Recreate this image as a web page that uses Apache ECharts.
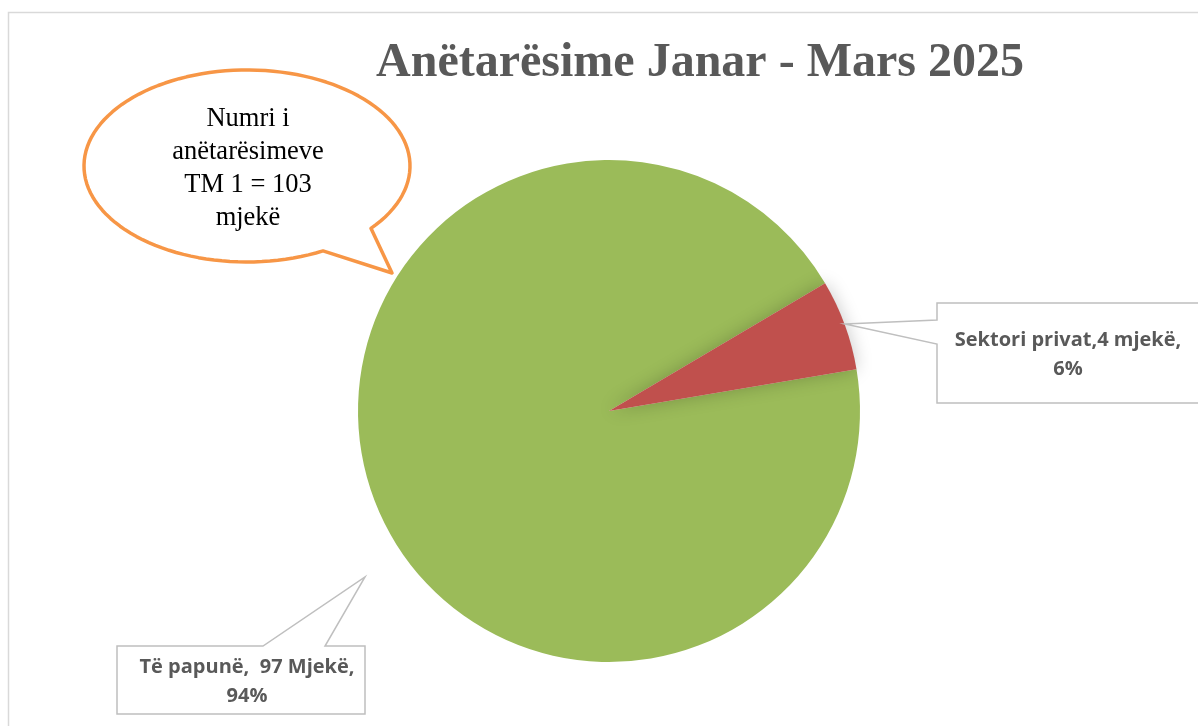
<!DOCTYPE html>
<html>
<head>
<meta charset="utf-8">
<script src="https://cdn.jsdelivr.net/npm/echarts@6/dist/echarts.min.js"></script>
<style>
html,body{margin:0;padding:0;background:#fff;}
#chart{width:1198px;height:726px;}
</style>
</head>
<body>
<div id="chart"></div>
<script>
// Data
const categories = ['Të papunë', 'Sektori privat'];
const values = [97, 6];
const labelTexts = ['Të papunë,  97 Mjekë,\n94%', 'Sektori privat,4 mjekë,\n6%'];
const colors = ['#9BBB59', '#C0504D'];
const titleText = 'Anëtarësime Janar - Mars 2025';
const bubbleText = 'Numri i\nanëtarësimeve\nTM 1 = 103\nmjekë';

const chart = echarts.init(document.getElementById('chart'), null, {renderer: 'canvas'});

// speech bubble outline
function bubblePoints(cx, cy, rx, ry, a0, a1, tip) {
  const pts = [];
  const start = a1, end = a0 + 360;
  const n = 120;
  for (let i = 0; i <= n; i++) {
    const a = (start + (end - start) * i / n) * Math.PI / 180;
    pts.push([cx + rx * Math.cos(a), cy + ry * Math.sin(a)]);
  }
  pts.push(tip);
  return pts;
}

const labelStyle = {
  fontFamily: 'Open Sans',
  fontWeight: 'bold',
  fontSize: 20,
  fill: '#595959',
  align: 'center',
  verticalAlign: 'middle',
  lineHeight: 29
};

const option = {
  animation: false,
  backgroundColor: '#fff',
  title: {
    text: titleText,
    left: 695,
    top: 35,
    textAlign: 'center',
    textStyle: {
      fontFamily: 'Liberation Serif',
      fontWeight: 'bold',
      fontSize: 48,
      color: '#595959'
    }
  },
  series: [{
    type: 'pie',
    center: [609, 411],
    radius: 251,
    startAngle: 9.6,
    clockwise: true,
    label: {show: false},
    labelLine: {show: false},
    emphasis: {disabled: true},
    data: categories.map((c, i) => ({
      name: c,
      value: values[i],
      itemStyle: i === 1 ? {color: colors[i], shadowBlur: 18, shadowColor: 'rgba(0,0,0,0.22)'} : {color: colors[i]}
    }))
  }],
  graphic: [
    {
      type: 'rect',
      shape: {x: 8.5, y: 12.5, width: 1200, height: 730},
      style: {fill: 'none', stroke: '#d9d9d9', lineWidth: 1.5},
      z: -10, silent: true
    },
    {
      type: 'polygon',
      shape: {points: bubblePoints(247, 166, 163, 96, 40.5, 62.2, [392, 273])},
      style: {fill: '#fff', stroke: '#F79646', lineWidth: 3.5, lineJoin: 'round'},
      z: 10
    },
    {
      type: 'text',
      x: 248, y: 169,
      style: {
        text: bubbleText,
        fontFamily: 'Liberation Serif',
        fontSize: 26.5,
        fill: '#000',
        align: 'center',
        verticalAlign: 'middle',
        lineHeight: 33
      },
      z: 11
    },
    {
      type: 'polygon',
      shape: {points: [[937, 303], [1215, 303], [1215, 403], [937, 403], [937, 344], [845, 324], [937, 320]]},
      style: {fill: '#fff', stroke: '#bfbfbf', lineWidth: 1.5},
      z: 10
    },
    {
      type: 'text',
      x: 1068, y: 355,
      style: Object.assign({text: labelTexts[1]}, labelStyle),
      z: 11
    },
    {
      type: 'polygon',
      shape: {points: [[117, 646], [263, 646], [365, 577], [325, 646], [365, 646], [365, 714], [117, 714]]},
      style: {fill: '#fff', stroke: '#bfbfbf', lineWidth: 1.5},
      z: 10
    },
    {
      type: 'text',
      x: 247, y: 682,
      style: Object.assign({text: labelTexts[0]}, labelStyle),
      z: 11
    }
  ]
};
chart.setOption(option);
</script>
</body>
</html>
